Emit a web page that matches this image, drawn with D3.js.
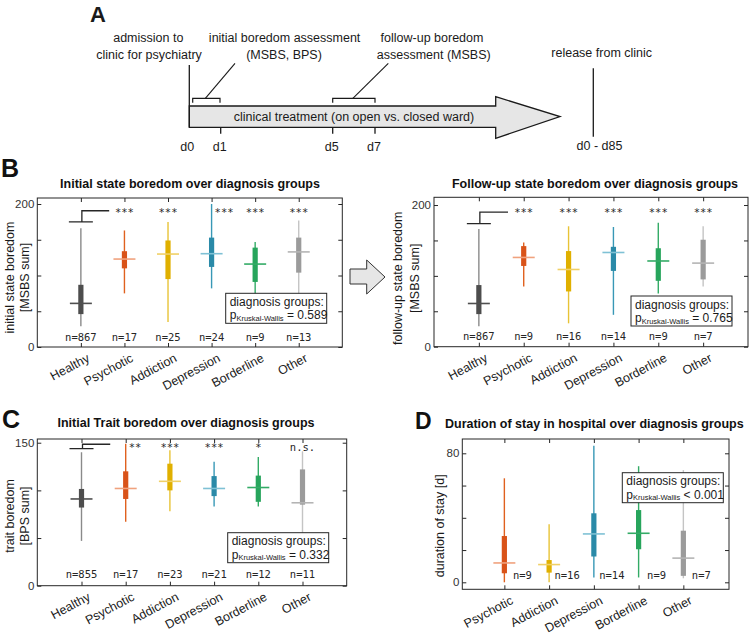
<!DOCTYPE html>
<html>
<head>
<meta charset="utf-8">
<script src="https://cdn.jsdelivr.net/npm/d3@7"></script>
<style>
  body { margin: 0; background: #fff; }
  svg { font-family: "Liberation Sans", Arial, Helvetica, sans-serif; }
</style>
</head>
<body>
<div id="fig"></div>
<script>
// ---- data ----
const groups = ["Healthy", "Psychotic", "Addiction", "Depression", "Borderline", "Other"]
const stayGroups = ["Psychotic", "Addiction", "Depression", "Borderline", "Other"]

const boxColors = ["#4d4d4d", "#d95319", "#e0b000", "#2a8aa8", "#27a55c", "#9b9b9b"]
const whiskerColors = ["#8a8a8a", "#e0611f", "#e8c336", "#3898b6", "#33ab66", "#c4c4c4"]
const medianColors = ["#4f4f4f", "#f0a27e", "#f0d066", "#7fc1d5", "#33ab66", "#b4b4b4"]

// initial state boredom (MSBS sum)
const initLo = [29, 75, 35, 82, 70, 60]
const initQ1 = [46, 110, 95, 112, 91, 104]
const initMed = [61, 123, 130, 130.5, 116, 133]
const initQ3 = [87, 134, 149, 153, 139, 153]
const initHi = [166, 163, 175, 200, 147, 177]
const initN = [867, 17, 25, 24, 9, 13]
const initSig = ["", "***", "***", "***", "***", "***"]

// follow-up state boredom (MSBS sum)
const fuLo = [29, 85, 33, 45, 75, 85]
const fuQ1 = [46, 114, 78, 107, 93, 95]
const fuMed = [61, 126, 109, 133, 121, 118]
const fuQ3 = [87, 142, 135, 141, 139, 151]
const fuHi = [166, 147, 170, 169, 175, 170]
const fuN = [867, 9, 16, 14, 9, 7]
const fuSig = ["", "***", "***", "***", "***", "***"]

// initial trait boredom (BPS sum)
const traitLo = [47, 67, 78, 83, 83, 40]
const traitQ1 = [82, 91, 100, 94, 88, 85]
const traitMed = [91, 102, 109.5, 102, 103, 87]
const traitQ3 = [101.5, 120, 128, 115, 115.5, 122]
const traitHi = [140, 149, 142, 130, 135, 141]
const traitN = [855, 17, 23, 21, 12, 11]
const traitSig = ["", "**", "***", "***", "*", "n.s."]

// duration of stay [d]
const stayLo = [0, 0, 3, 3, 2.5]
const stayQ1 = [5.6, 6, 16, 20.5, 4]
const stayMed = [12, 11, 30, 30.4, 15]
const stayQ3 = [28.7, 13.8, 42.8, 44.8, 32]
const stayHi = [64.5, 36, 84.7, 72, 69.6]
const stayN = [9, 16, 14, 9, 7]

const kwP = ["= 0.589", "= 0.765", "= 0.332", "< 0.001"]

// timeline (panel A)
const dayLabels = ["d0", "d1", "d5", "d7"]
const dayValues = [0, 1, 5, 7]

const W = 750, H = 635
const svg = d3.select("#fig").append("svg")
    .attr("width", W)
    .attr("height", H)

const ink = "#1a1a1a"

/* ---------- panel A : timeline ---------- */
function drawTimeline() {
    const g = svg.append("g").attr("font-size", 12.5).attr("fill", ink)
    // piecewise day scale (schematic, not to scale)
    const day = d3.scaleLinear().domain(dayValues).range([189.3, 220.7, 332.7, 375])

    g.append("text").attr("x", 90).attr("y", 22)
        .attr("font-size", 22).attr("font-weight", "bold").text("A")

    // big arrow
    const top = 106, bot = 127.3, headX = 495.7, tipX = 560
    g.append("path")
        .attr("d", `M${day(0)},${top} L${headX},${top} L${headX},96.7 L${tipX},${(top + bot) / 2} L${headX},138.3 L${headX},${bot} L${day(0)},${bot} Z`)
        .attr("fill", "#e6e6e6").attr("stroke", ink).attr("stroke-width", 1.3)
    g.append("text").attr("x", 354).attr("y", (top + bot) / 2)
        .attr("text-anchor", "middle").attr("dominant-baseline", "central")
        .text("clinical treatment (on open vs. closed ward)")

    // d0 line + day ticks
    g.append("line").attr("x1", day(0)).attr("x2", day(0)).attr("y1", 65).attr("y2", bot)
        .attr("stroke", ink).attr("stroke-width", 1.3)
    g.selectAll(".dtick").data(dayValues.slice(1)).enter().append("line")
        .attr("x1", d => day(d)).attr("x2", d => day(d))
        .attr("y1", bot).attr("y2", bot + 6.5)
        .attr("stroke", ink).attr("stroke-width", 1.3)
    g.selectAll(".dlab").data(dayValues).enter().append("text")
        .attr("x", d => day(d) - (d === 0 ? 2 : 1))
        .attr("y", 147)
        .attr("text-anchor", "middle").attr("dominant-baseline", "central")
        .text((d, i) => dayLabels[i])

    // assessment brackets
    const brackets = [[0, 1, 235], [5, 7, 388.3]]
    brackets.forEach(([a, b, lx]) => {
        const x0 = day(a) + (a === 0 ? 3.4 : 0), x1 = day(b) - (a === 0 ? 0.7 : 0)
        g.append("path")
            .attr("d", `M${x0},102.7 L${x0},98.3 L${x1},98.3 L${x1},102.7`)
            .attr("fill", "none").attr("stroke", ink).attr("stroke-width", 1.2)
        const mx = x0 + (x1 - x0) / 2 - 1
        g.append("line").attr("x1", mx).attr("y1", 98.3).attr("x2", lx).attr("y2", 63.3)
            .attr("stroke", ink).attr("stroke-width", 1.1)
    })

    const labels = [
        ["admission to", 148.3, 38], ["clinic for psychiatry", 149, 55],
        ["initial boredom assessment", 284.6, 38], ["(MSBS, BPS)", 284, 55],
        ["follow-up boredom", 432, 38], ["assessment (MSBS)", 433.7, 55],
        ["release from clinic", 601.7, 53.3], ["d0 - d85", 599.5, 146]
    ]
    g.selectAll(".alab").data(labels).enter().append("text")
        .attr("x", d => d[1]).attr("y", d => d[2])
        .attr("text-anchor", "middle").attr("dominant-baseline", "central")
        .text(d => d[0])
    g.append("line").attr("x1", 593.3).attr("x2", 593.3).attr("y1", 68.3).attr("y2", 136.7)
        .attr("stroke", ink).attr("stroke-width", 1.3)
}

/* ---------- box plot panels ---------- */
function drawBoxPanel(o) {
    const g = svg.append("g")
    const x = d3.scaleLinear().domain(o.xDomain).range([o.left, o.right])
    const y = d3.scaleLinear().domain(o.yDomain).range([o.bottom, o.top])
    const off = o.first
    const rows = o.cats.map((c, i) => ({
        cat: c, i, lo: o.lo[i], q1: o.q1[i], med: o.med[i], q3: o.q3[i], hi: o.hi[i],
        n: o.n[i], sig: o.sig ? o.sig[i] : "", ci: i + o.colorShift
    }))
    const pos = d => x(d.i + off)
    const catTicks = o.cats.map((c, i) => i + off)

    // axes (ticks inward, MATLAB box style)
    const left = g.append("g").attr("transform", `translate(${o.left},0)`)
        .call(d3.axisLeft(y).tickValues(o.yTicks).tickSize(-4).tickPadding(3)
            .tickFormat(v => o.yLabeled.includes(v) ? v : ""))
    g.append("g").attr("transform", `translate(${o.right},0)`)
        .call(d3.axisRight(y).tickValues(o.yTicks).tickSize(-4).tickFormat(""))
    g.append("g").attr("transform", `translate(0,${o.top})`)
        .call(d3.axisTop(x).tickValues(catTicks).tickSize(-4).tickFormat(""))
    const bottom = g.append("g").attr("transform", `translate(0,${o.bottom})`)
        .call(d3.axisBottom(x).tickValues(catTicks).tickSize(-4).tickFormat(v => o.cats[v - off]))
    g.selectAll(".domain").remove()
    g.selectAll(".tick line").attr("stroke", "#262626")
    left.selectAll("text").attr("font-size", 11.5).attr("fill", "#333")
        .attr("font-family", "Liberation Sans, Arial, sans-serif")
    bottom.selectAll("text")
        .attr("font-size", 12.5).attr("fill", "#1a1a1a")
        .attr("font-family", "Liberation Sans, Arial, sans-serif")
        .attr("text-anchor", "end").attr("y", 0).attr("dy", "0.71em")
        .attr("transform", "translate(5,6) rotate(-28)")

    g.append("rect").attr("x", o.left).attr("y", o.top)
        .attr("width", o.right - o.left).attr("height", o.bottom - o.top)
        .attr("fill", "none").attr("stroke", "#262626").attr("stroke-width", 1)

    // boxes
    const bx = g.selectAll(".bx").data(rows).enter().append("g")
    bx.append("line")
        .attr("x1", pos).attr("x2", pos)
        .attr("y1", d => y(d.lo)).attr("y2", d => y(d.hi))
        .attr("stroke", d => whiskerColors[d.ci]).attr("stroke-width", 1.4)
    bx.append("rect")
        .attr("x", d => pos(d) - 2.6).attr("width", 5.2)
        .attr("y", d => y(d.q3)).attr("height", d => y(d.q1) - y(d.q3))
        .attr("fill", d => boxColors[d.ci])
    bx.append("line")
        .attr("x1", d => pos(d) - 11).attr("x2", d => pos(d) + 11)
        .attr("y1", d => y(d.med)).attr("y2", d => y(d.med))
        .attr("stroke", d => medianColors[d.ci]).attr("stroke-width", 1.6)

    // n labels
    g.selectAll(".nl").data(rows).enter().append("text")
        .attr("x", d => pos(d) + o.nShift)
        .attr("y", o.bottom - o.nGap)
        .attr("text-anchor", "middle").attr("dominant-baseline", "central")
        .attr("font-family", "DejaVu Sans Mono, monospace").attr("font-size", 10.5)
        .attr("fill", "#262626")
        .text(d => "n=" + d.n)

    // significance stars, moved right of whiskers that reach them
    if (o.sig) {
        g.selectAll(".st").data(rows.filter(d => d.sig)).enter().append("text")
            .attr("x", d => d.hi > o.starLevel - 4 ? pos(d) + 3 : pos(d))
            .attr("y", y(o.starLevel))
            .attr("text-anchor", d => d.hi > o.starLevel - 4 ? "start" : "middle")
            .attr("dominant-baseline", "central")
            .attr("font-family", "DejaVu Sans Mono, monospace").attr("font-size", 10.5)
            .attr("fill", "#262626")
            .text(d => d.sig)
        // bracket from healthy group
        const hx = x(off)
        g.append("path")
            .attr("d", `M${hx - 12},${y(o.capLevel)} L${hx + 12},${y(o.capLevel)} M${hx + 1},${y(o.capLevel)} L${hx + 1},${y(o.brLevel)} L${x(off + 0.65)},${y(o.brLevel)}`)
            .attr("fill", "none").attr("stroke", "#262626").attr("stroke-width", 1.3)
    }

    // Kruskal-Wallis box
    const lg = g.append("g").attr("transform", `translate(${o.legX},${o.legY})`)
    lg.append("rect").attr("width", 101).attr("height", 30)
        .attr("fill", "#fff").attr("stroke", "#262626").attr("stroke-width", 1)
    lg.append("text").attr("x", 4).attr("y", 8.5).attr("font-size", 12)
        .attr("dominant-baseline", "central").attr("fill", ink).text("diagnosis groups:")
    const pt = lg.append("text").attr("x", 4).attr("y", 22).attr("font-size", 12)
        .attr("dominant-baseline", "central").attr("fill", ink)
    pt.append("tspan").text("p")
    pt.append("tspan").attr("font-size", 7.5).attr("dy", 2.5).text("Kruskal-Wallis")
    pt.append("tspan").attr("dy", -2.5).text(" " + o.p)

    // title + y label
    g.append("text").attr("x", o.titleX).attr("y", o.titleY)
        .attr("text-anchor", "middle").attr("dominant-baseline", "central")
        .attr("font-size", 12.5).attr("font-weight", "bold").attr("fill", "#111")
        .text(o.title)
    o.ylab.forEach((t, k) => {
        g.append("text")
            .attr("transform", `translate(${o.ylabX[k]},${o.ylabY}) rotate(-90)`)
            .attr("text-anchor", "middle").attr("dominant-baseline", "central")
            .attr("font-size", 12.5).attr("fill", ink).text(t)
    })
}

drawTimeline()

svg.append("text").attr("x", 1).attr("y", 177).attr("font-size", 25)
    .attr("font-weight", "bold").attr("fill", "#111").text("B")
svg.append("text").attr("x", 2).attr("y", 428).attr("font-size", 25)
    .attr("font-weight", "bold").attr("fill", "#111").text("C")
svg.append("text").attr("x", 415).attr("y", 428.5).attr("font-size", 23)
    .attr("font-weight", "bold").attr("fill", "#111").text("D")

// arrow between initial and follow-up
svg.append("path")
    .attr("d", "M350,269 L366.7,269 L366.7,260 L385,277 L366.7,294 L366.7,284 L350,284 Z")
    .attr("fill", "#e6e6e6").attr("stroke", "#333").attr("stroke-width", 1)

drawBoxPanel({
    cats: groups, first: 1, colorShift: 0, xDomain: [0, 7],
    left: 37.3, right: 342.3, top: 198, bottom: 347, yDomain: [0, 208.4],
    yTicks: [0, 50, 100, 150, 200], yLabeled: [0, 200],
    lo: initLo, q1: initQ1, med: initMed, q3: initQ3, hi: initHi, n: initN, sig: initSig,
    starLevel: 189, capLevel: 175, brLevel: 190.6, nGap: 10.5, nShift: 0,
    legX: 225.7, legY: 293.3, p: kwP[0],
    title: "Initial state boredom over diagnosis groups", titleX: 190, titleY: 184,
    ylab: ["initial state boredom", "[MSBS sum]"], ylabX: [10, 25], ylabY: 277.5
})

drawBoxPanel({
    cats: groups, first: 1, colorShift: 0, xDomain: [0, 7],
    left: 434, right: 748, top: 197.3, bottom: 346.7, yDomain: [0, 210.9],
    yTicks: [0, 50, 100, 150, 200], yLabeled: [0, 200],
    lo: fuLo, q1: fuQ1, med: fuMed, q3: fuQ3, hi: fuHi, n: fuN, sig: fuSig,
    starLevel: 190, capLevel: 173.7, brLevel: 190, nGap: 11, nShift: 0,
    legX: 631, legY: 296, p: kwP[1],
    title: "Follow-up state boredom over diagnosis groups", titleX: 595, titleY: 184,
    ylab: ["follow-up state boredom", "[MSBS sum]"], ylabX: [398, 415], ylabY: 278.3
})

drawBoxPanel({
    cats: groups, first: 1, colorShift: 0, xDomain: [0, 7],
    left: 37.3, right: 346.7, top: 439, bottom: 585.7, yDomain: [0, 153.9],
    yTicks: [0, 50, 100, 150], yLabeled: [0, 150],
    lo: traitLo, q1: traitQ1, med: traitMed, q3: traitQ3, hi: traitHi, n: traitN, sig: traitSig,
    starLevel: 146, capLevel: 143.8, brLevel: 148.4, nGap: 11.4, nShift: 0,
    legX: 227.7, legY: 532.7, p: kwP[2],
    title: "Initial Trait boredom over diagnosis groups", titleX: 186, titleY: 423.3,
    ylab: ["trait boredom", "[BPS sum]"], ylabX: [10, 25], ylabY: 516
})

drawBoxPanel({
    cats: stayGroups, first: 1, colorShift: 1, xDomain: [0.06, 6.02],
    left: 462.3, right: 729, top: 439, bottom: 589.3, yDomain: [-4.34, 88.87],
    yTicks: [0, 20, 40, 60, 80], yLabeled: [0, 80],
    lo: stayLo, q1: stayQ1, med: stayMed, q3: stayQ3, hi: stayHi, n: stayN, sig: null,
    nGap: 14.3, nShift: 18,
    legX: 622.3, legY: 472.7, p: kwP[3],
    title: "Duration of stay in hospital over diagnosis groups", titleX: 594.3, titleY: 424.3,
    ylab: ["duration of stay [d]"], ylabX: [440], ylabY: 525.8
})
</script>
</body>
</html>
